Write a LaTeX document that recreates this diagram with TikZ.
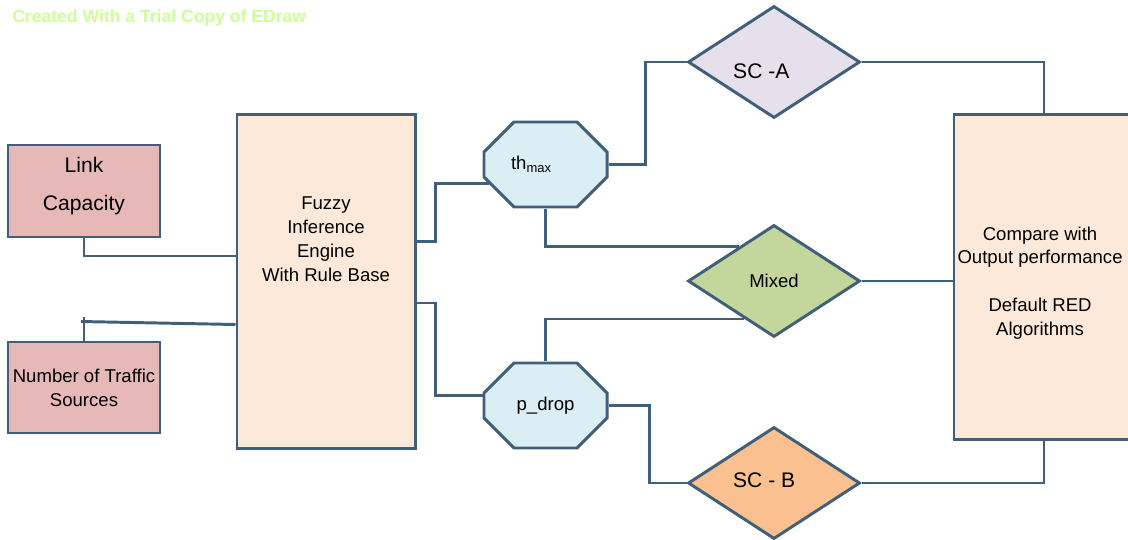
\documentclass[tikz,border=0pt]{standalone}
\usepackage{fontspec}
\setmainfont{Liberation Sans}
\usepackage{tikz}
\usetikzlibrary{shapes.geometric,positioning}
\definecolor{edge}{RGB}{64,95,122}
\definecolor{inputred}{RGB}{230,185,184}
\definecolor{peach}{RGB}{253,233,217}
\definecolor{skyblue}{RGB}{219,238,244}
\definecolor{lavender}{RGB}{229,224,236}
\definecolor{mixgreen}{RGB}{195,214,155}
\definecolor{scborange}{RGB}{250,192,144}
\definecolor{trialgreen}{RGB}{204,255,153}

\begin{document}
\begin{tikzpicture}[x=0.025cm, y=-0.025cm, font=\fontsize{13.2}{17}\selectfont,
  box/.style={rectangle, draw=edge, line width=2.1pt, inner sep=0pt, align=center},
  octa/.style={rectangle, inner sep=0pt, minimum width={3.075cm+2.1pt}, minimum height={2.125cm+2.1pt},
    path picture={
      \filldraw[draw=edge, fill=skyblue, line width=2.1pt]
        ([xshift=0.75cm+1.05pt, yshift=-1.05pt]path picture bounding box.north west)
        -- ([xshift=-0.75cm-1.05pt, yshift=-1.05pt]path picture bounding box.north east)
        -- ([xshift=-1.05pt, yshift=-0.75cm-1.05pt]path picture bounding box.north east)
        -- ([xshift=-1.05pt, yshift=0.75cm+1.05pt]path picture bounding box.south east)
        -- ([xshift=-0.75cm-1.05pt, yshift=1.05pt]path picture bounding box.south east)
        -- ([xshift=0.75cm+1.05pt, yshift=1.05pt]path picture bounding box.south west)
        -- ([xshift=1.05pt, yshift=0.75cm+1.05pt]path picture bounding box.south west)
        -- ([xshift=1.05pt, yshift=-0.75cm-1.05pt]path picture bounding box.north west) -- cycle;
    }},
  choice/.style={diamond, draw=edge, line width=2.1pt, minimum width=4.3cm, minimum height=2.8cm, inner sep=0pt},
  wire/.style={draw=edge, line width=2.1pt}]
   \useasboundingbox (0,0) rectangle (1128,539);
   \clip (0,0) rectangle (1128,539);
   \node[anchor=west, inner sep=0pt, text=trialgreen, font=\bfseries\fontsize{12.5}{15}\selectfont] (trial) at (12,18) {Created With a Trial Copy of EDraw};
   % inputs
   \node[box, fill=inputred, minimum width=3.8cm, minimum height=2.3cm,
     label={[yshift=3.5pt, align=center, font=\fontsize{15}{27}\selectfont]center:Link\\Capacity}] (link) at (84,191) {};
   \node[box, fill=inputred, minimum width=3.8cm, minimum height=2.275cm] (nts) at (84,387.5) {Number of Traffic\\Sources};
   % engine
   \node[box, fill=peach, minimum width=4.45cm, minimum height=8.325cm,
     label={[yshift=30pt, align=center]center:Fuzzy\\Inference\\Engine\\With Rule Base}] (fuzzy) at (326,281.5) {};
   % thresholds
   \node[octa, label={[xshift=-10pt]center:th\textsubscript{max}}] (thmax) at (545.5,164.5) {};
   \node[octa] (pdrop) at (545.5,405.5) {p\_drop};
   % schemes
   \node[choice, fill=lavender, label={[xshift=-9pt, yshift=-6.4pt, font=\fontsize{15}{18}\selectfont]center:SC -A}] (sca) at (774,62) {};
   \node[choice, fill=mixgreen] (mixed) at (774,281) {Mixed};
   \node[choice, fill=scborange, label={[xshift=-7pt, yshift=2pt, font=\fontsize{15}{18}\selectfont]center:SC - B}] (scb) at (774,483) {};
   % output
   \node[box, fill=peach, minimum width=4.5cm, minimum height=8.1cm,
     label={[xshift=-2.8pt, yshift=-4.3pt, align=center]center:Compare with\\Output performance\\[17pt]Default RED\\Algorithms}] (compare) at (1044,277) {};
   % connectors
   \draw[wire] (link.south) |- ([shift={(0,-25.5)}]fuzzy.west);
   \draw[wire] ([shift={(0,-24)}]nts.north) -- (nts.north);
   \draw[wire] ([shift={(-3,-19)}]nts.north) -- ([shift={(0,43)}]fuzzy.west);
   \draw[wire] ([shift={(0,-40)}]fuzzy.east) -- ++(19,0) |- ([shift={(7,19)}]thmax.west);
   \draw[wire] ([shift={(0,21.5)}]fuzzy.east) -- ++(19,0) |- ([shift={(2,-10)}]pdrop.west);
   \draw[wire] (thmax.south) |- (mixed.135);
   \draw[wire] (pdrop.north) |- (mixed.232);
   \draw[wire] (thmax.east) -- ++(37,0) |- (sca.west);
   \draw[wire] (pdrop.east) -- ++(41,0) |- (scb.west);
   \draw[wire] (sca.east) -| (compare.north);
   \draw[wire] (mixed.east) -- (mixed.east -| compare.west);
   \draw[wire] (scb.east) -| (compare.south);
\end{tikzpicture}
\end{document}
